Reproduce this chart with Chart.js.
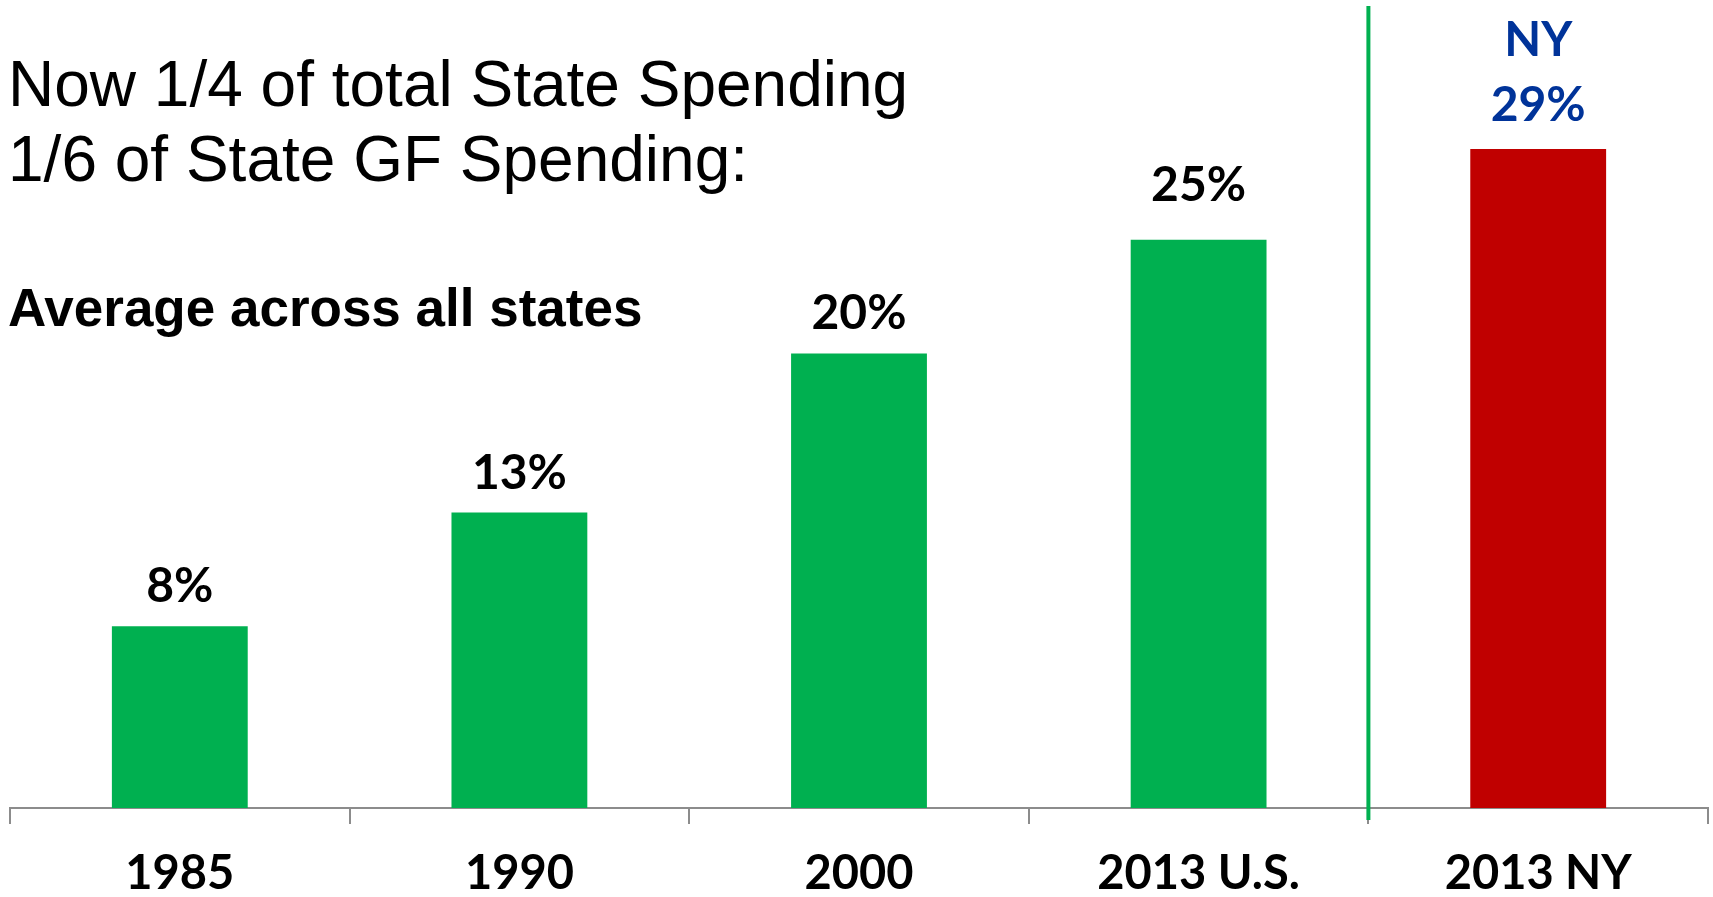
<!DOCTYPE html>
<html>
<head>
<meta charset="utf-8">
<script src="https://cdn.jsdelivr.net/npm/chart.js@4"></script>
<style>
  html, body { margin: 0; padding: 0; background: #fff; }
  #wrap { width: 1713px; height: 897px; }
</style>
</head>
<body>
<div id="wrap"><canvas id="spendingChart" width="1713" height="897"></canvas></div>
<script>
// Share of state spending, by year
const categories = ['1985', '1990', '2000', '2013 U.S.', '2013 NY'];
const shares = [8, 13, 20, 25, 29];
const barColors = ['#00B050', '#00B050', '#00B050', '#00B050', '#C00000'];
const labelColors = ['#000', '#000', '#000', '#000', '#003399'];
const labelPrefix = ['', '', '', '', 'NY'];
const headLines = ['Now 1/4 of total State Spending', '1/6 of State GF Spending:'];
const subHead = 'Average across all states';

// Heading text in the top-left corner
const headingPlugin = {
  id: 'heading',
  afterDraw(chart) {
    const ctx = chart.ctx;
    ctx.save();
    ctx.fillStyle = '#000';
    ctx.textAlign = 'left';
    ctx.textBaseline = 'alphabetic';
    ctx.font = '64px "Liberation Sans", Arial, sans-serif';
    ctx.fillText(headLines[0], 8, 106);
    ctx.fillText(headLines[1], 8, 181);
    ctx.font = 'bold 53px "Liberation Sans", Arial, sans-serif';
    ctx.fillText(subHead, 8, 326);
    ctx.restore();
  }
};

// Value labels above each bar, plus the divider before NY
const barLabelsPlugin = {
  id: 'barLabels',
  afterDatasetsDraw(chart, args, opts) {
    const ctx = chart.ctx;
    const meta = chart.getDatasetMeta(0);
    const xs = chart.scales.x;
    ctx.save();

    // divider between U.S. and NY
    const divX = (xs.getPixelForValue(3) + xs.getPixelForValue(4)) / 2;
    ctx.strokeStyle = '#00B050';
    ctx.lineWidth = 4;
    ctx.beginPath();
    ctx.moveTo(divX, 6);
    ctx.lineTo(divX, chart.chartArea.bottom + 12);
    ctx.stroke();

    ctx.textAlign = 'center';
    ctx.textBaseline = 'alphabetic';
    ctx.font = 'bold 48px Lato, "Open Sans", sans-serif';
    meta.data.forEach((bar, i) => {
      ctx.fillStyle = labelColors[i];
      const base = bar.y - opts.gaps[i];
      ctx.fillText(shares[i] + '%', bar.x, base);
      if (labelPrefix[i]) ctx.fillText(labelPrefix[i], bar.x, base - 65);
    });
    ctx.restore();
  }
};

new Chart(document.getElementById('spendingChart'), {
  type: 'bar',
  data: {
    labels: categories,
    datasets: [{
      data: shares,
      backgroundColor: barColors,
      categoryPercentage: 1,
      barPercentage: 0.4,
    }],
  },
  options: {
    responsive: false,
    animation: false,
    layout: { padding: { left: 10, right: 5, top: 8, bottom: 0 } },
    plugins: {
      legend: { display: false },
      tooltip: { enabled: false },
      barLabels: { gaps: [24, 24, 24, 39, 28] },
    },
    scales: {
      x: {
        afterFit(scale) { scale.height = 89; },
        border: { display: true, color: '#8c8c8c', width: 2 },
        grid: {
          offset: true,
          drawOnChartArea: false,
          drawTicks: true,
          tickLength: 16,
          color: '#8c8c8c',
          lineWidth: 2,
        },
        ticks: {
          color: '#000',
          padding: 22,
          font: { family: 'Lato, "Open Sans", sans-serif', size: 47, weight: 'bold' },
        },
      },
      y: {
        display: false,
        min: 0,
        max: 35.2,
      },
    },
  },
  plugins: [headingPlugin, barLabelsPlugin],
});
</script>
</body>
</html>
